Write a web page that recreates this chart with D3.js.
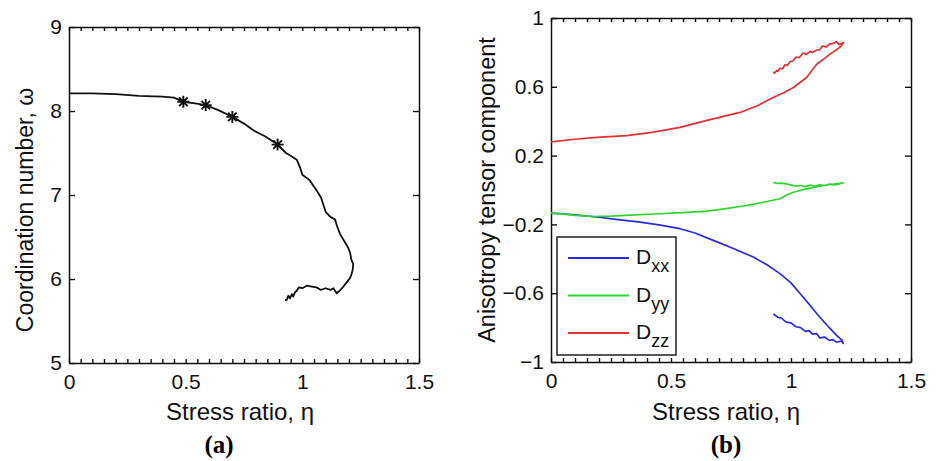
<!DOCTYPE html>
<html>
<head>
<meta charset="utf-8">
<script src="https://cdn.jsdelivr.net/npm/d3@7"></script>
<style>
  body { margin: 0; background: #fff; }
  svg { display: block; font-family: Arial, "Liberation Sans", sans-serif; }
  .axis path { stroke: #111; stroke-width: 1.5; }
  .axis line { stroke: #111; stroke-width: 1.4; }
  .axis text { font-size: 21px; fill: #111; }
</style>
</head>
<body>
<div class="chart"></div>
<script>
// panel (a): coordination number vs stress ratio
const etaA = [0, 0.1, 0.2, 0.3, 0.4, 0.45, 0.49, 0.54, 0.586, 0.64, 0.70, 0.75, 0.79, 0.84, 0.894,
  0.93, 0.96, 0.976, 0.99, 1.0, 1.03, 1.06, 1.08, 1.10, 1.12, 1.14, 1.15, 1.161, 1.18, 1.197,
  1.205, 1.21, 1.218, 1.216, 1.21, 1.204, 1.19, 1.176, 1.16, 1.147, 1.133, 1.12, 1.10, 1.08, 1.061,
  1.04, 1.019, 1.0, 0.985, 0.976, 0.968, 0.961, 0.955, 0.947, 0.94, 0.933, 0.926];
const coordNum = [8.21, 8.21, 8.20, 8.18, 8.17, 8.16, 8.11, 8.09, 8.07, 8.01, 7.93, 7.85, 7.77, 7.70, 7.60,
  7.50, 7.45, 7.42, 7.33, 7.24, 7.18, 7.06, 6.97, 6.80, 6.74, 6.71, 6.62, 6.54, 6.45, 6.37,
  6.31, 6.23, 6.18, 6.11, 6.05, 6.01, 5.96, 5.91, 5.86, 5.83, 5.89, 5.87, 5.89, 5.87, 5.90,
  5.91, 5.92, 5.89, 5.90, 5.86, 5.84, 5.79, 5.82, 5.77, 5.80, 5.75, 5.75];
// star markers
const starEta = [0.49, 0.586, 0.70, 0.894];
const starCoord = [8.11, 8.07, 7.93, 7.60];

// panel (b): anisotropy tensor components
const etaXX = [0, 0.05, 0.1, 0.19, 0.28, 0.371, 0.45, 0.5375, 0.6, 0.676, 0.76, 0.843, 0.9, 0.954, 1.0,
  1.0375, 1.07, 1.107, 1.14, 1.1625, 1.19, 1.211, 1.218, 1.21, 1.19, 1.175, 1.16, 1.14, 1.12, 1.107,
  1.09, 1.075, 1.06, 1.04, 1.02, 1.0, 0.98, 0.96, 0.945, 0.926];
const dxx = [-0.134, -0.138, -0.145, -0.157, -0.172, -0.187, -0.203, -0.225, -0.25, -0.293, -0.34, -0.39,
  -0.435, -0.486, -0.54, -0.602, -0.655, -0.718, -0.77, -0.805, -0.845, -0.872, -0.892, -0.878, -0.885,
  -0.87, -0.874, -0.855, -0.86, -0.835, -0.838, -0.818, -0.822, -0.8, -0.795, -0.772, -0.768, -0.745,
  -0.74, -0.72];
const etaYY = [0, 0.05, 0.1, 0.176, 0.25, 0.35, 0.454, 0.55, 0.649, 0.73, 0.815, 0.89, 0.954, 0.98, 1.01,
  1.065, 1.1, 1.135, 1.18, 1.218, 1.2, 1.18, 1.16, 1.14, 1.12, 1.1, 1.08, 1.06, 1.04, 1.02, 1.0, 0.98,
  0.96, 0.945, 0.926];
const dyy = [-0.134, -0.14, -0.147, -0.154, -0.152, -0.145, -0.138, -0.131, -0.123, -0.108, -0.09, -0.07,
  -0.051, -0.03, -0.013, 0.007, 0.017, 0.026, 0.035, 0.042, 0.036, 0.03, 0.034, 0.026, 0.03, 0.022,
  0.028, 0.02, 0.026, 0.022, 0.03, 0.036, 0.04, 0.038, 0.044];
const etaZZ = [0, 0.1, 0.19, 0.315, 0.42, 0.5375, 0.65, 0.7875, 0.86, 0.926, 0.97, 1.01, 1.065, 1.107,
  1.14, 1.1625, 1.19, 1.21, 1.218, 1.2, 1.19, 1.176, 1.16, 1.148, 1.13, 1.12, 1.107, 1.09, 1.08, 1.065,
  1.05, 1.035, 1.02, 1.008, 0.996, 0.985, 0.975, 0.965, 0.954, 0.945, 0.94, 0.932, 0.926];
const dzz = [0.28, 0.295, 0.306, 0.316, 0.335, 0.364, 0.405, 0.451, 0.49, 0.538, 0.565, 0.596, 0.654,
  0.731, 0.765, 0.79, 0.815, 0.838, 0.857, 0.845, 0.862, 0.852, 0.848, 0.832, 0.836, 0.815, 0.814,
  0.8, 0.806, 0.79, 0.796, 0.77, 0.772, 0.75, 0.746, 0.725, 0.728, 0.705, 0.708, 0.69, 0.695, 0.68,
  0.686];

const xTicks = [0, 0.5, 1, 1.5];
const yTicksA = [5, 6, 7, 8, 9];
const yTicksB = [-1, -0.6, -0.2, 0.2, 0.6, 1];
const seriesNames = ["xx", "yy", "zz"];
const seriesColors = ["#2b2be0", "#2fd62f", "#e43030"];

const svg = d3.select(".chart").append("svg")
  .attr("width", 936)
  .attr("height", 461);

svg.append("rect").attr("width", 936).attr("height", 461).attr("fill", "#fff");

function drawFrame(x, y, yTicks) {
  const g = svg.append("g");
  const [x0, x1] = x.range();
  const [y1, y0] = y.range();
  const minor = d3.range(0, 1.5001, 0.05);

  // bottom: labels + minor ticks pointing inward
  g.append("g").attr("class", "axis")
    .attr("transform", `translate(0,${y1})`)
    .call(d3.axisBottom(x).tickValues(minor).tickSizeInner(-4).tickSizeOuter(0).tickPadding(11)
      .tickFormat(d => xTicks.some(t => Math.abs(t - d) < 1e-6) ? d3.format("~g")(d) : ""));
  g.append("g").attr("class", "axis")
    .attr("transform", `translate(0,${y0})`)
    .call(d3.axisTop(x).tickValues(minor).tickSizeInner(-4).tickSizeOuter(0).tickFormat(""));
  g.append("g").attr("class", "axis")
    .attr("transform", `translate(${x0},0)`)
    .call(d3.axisLeft(y).tickValues(yTicks).tickSizeInner(-6).tickSizeOuter(0).tickPadding(7)
      .tickFormat(d3.format("~g")));
  g.append("g").attr("class", "axis")
    .attr("transform", `translate(${x1},0)`)
    .call(d3.axisRight(y).tickValues(yTicks).tickSizeInner(-6).tickSizeOuter(0).tickFormat(""));
  return g;
}

// ---- panel (a)
const xA = d3.scaleLinear().domain([0, 1.5]).range([69, 419]);
const yA = d3.scaleLinear().domain([5, 9]).range([363, 27]);
drawFrame(xA, yA, yTicksA);

const lineA = d3.line().x(i => xA(etaA[i])).y(i => yA(coordNum[i]));
svg.append("path")
  .attr("d", lineA(d3.range(etaA.length)))
  .attr("fill", "none")
  .attr("stroke", "#111")
  .attr("stroke-width", 1.8)
  .attr("stroke-linejoin", "round");

const star = "M-6,0H6M0,-6V6M-4.3,-4.3L4.3,4.3M-4.3,4.3L4.3,-4.3";
svg.selectAll("path.star")
  .data(d3.range(starEta.length))
  .enter().append("path")
  .attr("class", "star")
  .attr("d", star)
  .attr("transform", i => `translate(${xA(starEta[i])},${yA(starCoord[i])})`)
  .attr("stroke", "#111")
  .attr("stroke-width", 1.9)
  .attr("fill", "none");

svg.append("text").attr("x", 240).attr("y", 420)
  .attr("text-anchor", "middle").attr("font-size", 24).attr("fill", "#111")
  .text("Stress ratio, η");
svg.append("text").attr("transform", "translate(33,210) rotate(-90)")
  .attr("text-anchor", "middle").attr("font-size", 23).attr("fill", "#111")
  .text("Coordination number, ω");
svg.append("text").attr("x", 219).attr("y", 453)
  .attr("text-anchor", "middle").attr("font-size", 25).attr("font-weight", "bold")
  .attr("font-family", "'Liberation Serif', 'Times New Roman', serif")
  .text("(a)");

// ---- panel (b)
const xB = d3.scaleLinear().domain([0, 1.5]).range([551, 911]);
const yB = d3.scaleLinear().domain([-1, 1]).range([362, 18]);
drawFrame(xB, yB, yTicksB);

const seriesX = [etaXX, etaYY, etaZZ];
const seriesY = [dxx, dyy, dzz];
seriesNames.forEach((name, k) => {
  const line = d3.line().x(i => xB(seriesX[k][i])).y(i => yB(seriesY[k][i]));
  svg.append("path")
    .attr("d", line(d3.range(seriesX[k].length)))
    .attr("fill", "none")
    .attr("stroke", seriesColors[k])
    .attr("stroke-width", 1.7)
    .attr("stroke-linejoin", "round");
});

svg.append("text").attr("x", 726).attr("y", 420)
  .attr("text-anchor", "middle").attr("font-size", 24).attr("fill", "#111")
  .text("Stress ratio, η");
svg.append("text").attr("transform", "translate(495,190) rotate(-90)")
  .attr("text-anchor", "middle").attr("font-size", 23.5).attr("fill", "#111")
  .text("Anisotropy tensor component");
svg.append("text").attr("x", 726).attr("y", 453)
  .attr("text-anchor", "middle").attr("font-size", 25).attr("font-weight", "bold")
  .attr("font-family", "'Liberation Serif', 'Times New Roman', serif")
  .text("(b)");

// legend
const legend = svg.append("g").attr("transform", "translate(557,237)");
legend.append("rect")
  .attr("width", 119).attr("height", 118)
  .attr("fill", "#fff").attr("stroke", "#222").attr("stroke-width", 1.5);
seriesNames.forEach((name, k) => {
  const cy = 21 + k * 37.5;
  legend.append("line")
    .attr("x1", 11).attr("x2", 72).attr("y1", cy).attr("y2", cy)
    .attr("stroke", seriesColors[k]).attr("stroke-width", 1.8);
  const t = legend.append("text").attr("x", 79).attr("y", cy + 6)
    .attr("font-size", 21).attr("fill", "#111");
  t.append("tspan").text("D");
  t.append("tspan").attr("dy", 8).attr("font-size", 18).text(name);
});
</script>
</body>
</html>
